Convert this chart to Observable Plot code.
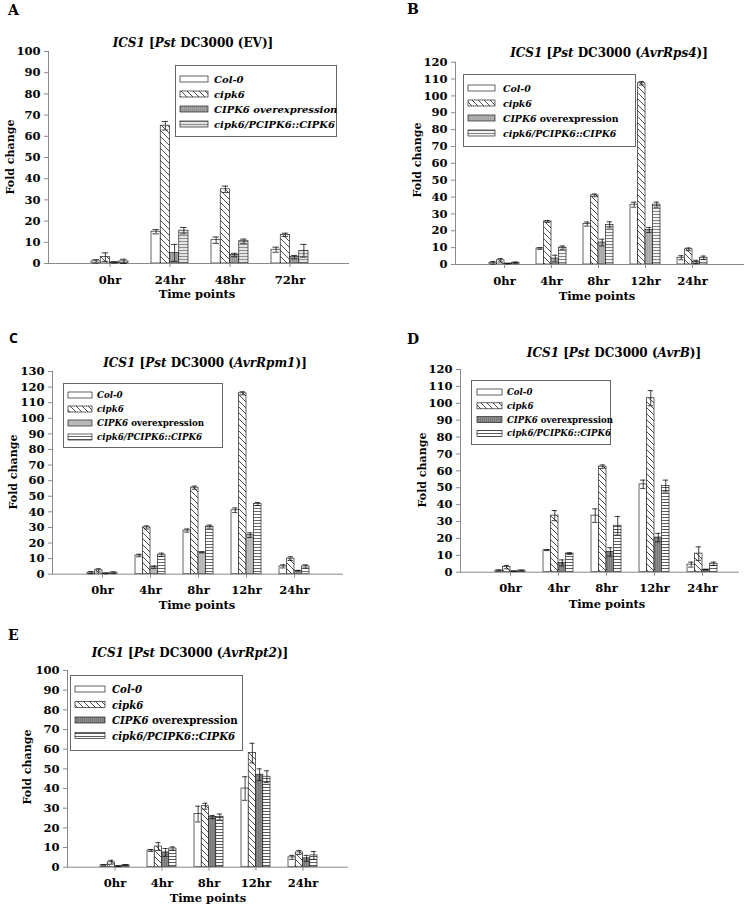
<!DOCTYPE html>
<html><head><meta charset="utf-8">
<script src="https://cdn.jsdelivr.net/npm/d3@7"></script>
<script src="https://cdn.jsdelivr.net/npm/@observablehq/plot@0.6"></script>
<style>
html,body{margin:0;padding:0;background:#fff;}
#page{position:relative;width:754px;height:905px;overflow:hidden;background:#fff;}
.panel{position:absolute;}
#overlay{position:absolute;left:0;top:0;pointer-events:none;}
</style></head><body><div id="page"></div>
<script>
// ---------- data ----------
const series = ["Col-0", "cipk6", "CIPK6 overexpression", "cipk6/PCIPK6::CIPK6"];
const timesA = ["0hr", "24hr", "48hr", "72hr"];
const timesBE = ["0hr", "4hr", "8hr", "12hr", "24hr"];
const strains = ["EV", "AvrRps4", "AvrRpm1", "AvrB", "AvrRpt2"];
const panelLetters = ["A", "B", "C", "D", "E"];
const yMax = [100, 120, 130, 120, 100];

// rows: Col-0, cipk6, CIPK6 overexpression, cipk6/PCIPK6::CIPK6
const meanA = [[1, 15, 11, 6.5], [3, 65, 35, 13.5], [0.5, 5, 4, 3], [1, 15.5, 10.5, 6]];
const errA  = [[0.8, 1, 1.5, 1.2], [2, 2, 1.5, 0.8], [0.3, 4, 0.8, 0.8], [1, 1.5, 1, 3]];

const meanB = [[1, 9.5, 24, 35.5, 4], [2.5, 25.5, 41, 107.5, 9], [0.5, 3.5, 13, 20.5, 1.5], [1, 10, 23.5, 35.5, 4]];
const errB  = [[0.8, 0.5, 1.2, 1.5, 1.2], [1, 0.6, 0.8, 1, 0.8], [0.2, 2, 2, 1.5, 1], [0.5, 1, 1.8, 1.5, 1]];

const meanC = [[1, 12, 28, 41, 5], [2.5, 30, 55.5, 116, 10], [0.5, 4.5, 14, 25, 2], [1, 12.5, 30.5, 45, 5]];
const errC  = [[0.7, 0.8, 1, 1.5, 1], [1, 1, 1, 1, 1.2], [0.2, 0.8, 0.3, 1.5, 0.5], [0.5, 1, 1, 1, 1]];

const meanD = [[1, 13, 33.5, 52, 4.5], [3, 33.5, 62.5, 103, 11], [0.5, 5.5, 12, 20.5, 1.5], [1, 11, 27.5, 51, 5]];
const errD  = [[0.3, 0.2, 4, 2.5, 1.5], [1, 3, 1, 4.5, 4], [0.1, 1.8, 2.5, 2.5, 0.2], [0.2, 0.5, 5.5, 3.5, 1]];

const meanE = [[1, 8.5, 27, 40, 5], [2.5, 10.5, 31, 58, 7.5], [0.5, 7.5, 25.5, 47, 4.5], [1, 9.5, 25.5, 46, 6]];
const errE  = [[0.3, 0.5, 4, 6, 1], [1, 2, 1.5, 5, 1], [0.2, 2, 0.8, 3, 1.5], [0.3, 0.8, 1.5, 3, 2]];

// ---------- layout / styles (page pixel coordinates) ----------
const layout = [
  {left:0,   top:0,   w:377, h:300, x0:48,  x1:349, yTop:51,  yBase:263,   c0:108, c1:290, gw:37,
   title:[193,43], letter:[8,10], letterFont:"DejaVu Serif", xlab:[197,294], ylab:[10,157],
   legend:{x:175,y:65,w:161,h:71,row0:14,dy:15,sx:5,sw:28,tx:39,fs:10},
   oe:"#a6a6a6", oeLine:"#8a8a8a", hzBg:"#e4e4e4", hzLine:"#7a7a7a"},
  {left:377, top:0,   w:377, h:300, x0:455, x1:744, yTop:61.7, yBase:264, c0:503, c1:692, gw:30,
   title:[609,53], letter:[407,9], letterFont:"DejaVu Serif", xlab:[597,296], ylab:[417,160],
   legend:{x:463,y:74,w:172,h:72,row0:14,dy:15,sx:5,sw:27,tx:40,fs:9.4},
   oe:"#b2b2b2", oeLine:"#a0a0a0", hzBg:"#f4f4f4", hzLine:"#666"},
  {left:0,   top:300, w:377, h:300, x0:52,  x1:343, yTop:371, yBase:573.7, c0:101, c1:294, gw:30,
   title:[205,363], letter:[9,337], letterFont:"Open Sans", xlab:[197,605], ylab:[13,472],
   legend:{x:63,y:383,w:159,h:64,row0:12,dy:14,sx:5,sw:24,tx:34,fs:8.7},
   oe:"#bdbdbd", oeLine:"#b0b0b0", hzBg:"#ffffff", hzLine:"#444"},
  {left:377, top:300, w:377, h:300, x0:460, x1:739, yTop:369, yBase:571.7, c0:509, c1:703, gw:30,
   title:[614,353], letter:[407,339], letterFont:"DejaVu Serif", xlab:[607,604], ylab:[422,470],
   legend:{x:471,y:380,w:139,h:64,row0:12,dy:13.8,sx:6,sw:25,tx:36,fs:8.6},
   oe:"#8e8e8e", oeLine:"#6c6c6c", hzBg:"#ffffff", hzLine:"#333"},
  {left:0,   top:600, w:377, h:305, x0:67,  x1:348, yTop:670, yBase:866.7, c0:114, c1:302, gw:29,
   title:[190,653], letter:[8,635], letterFont:"DejaVu Serif", xlab:[208,898], ylab:[27,767],
   legend:{x:70,y:675,w:172,h:75,row0:14,dy:15.5,sx:5,sw:30,tx:42,fs:10.2},
   oe:"#8c8c8c", oeLine:"#6c6c6c", hzBg:"#ffffff", hzLine:"#333"}
];

const panels = [
  {times: timesA,  mean: meanA, err: errA},
  {times: timesBE, mean: meanB, err: errB},
  {times: timesBE, mean: meanC, err: errC},
  {times: timesBE, mean: meanD, err: errD},
  {times: timesBE, mean: meanE, err: errE}
];

const FONT = "DejaVu Serif";
const page = document.getElementById("page");

// ---------- overlay svg with pattern defs ----------
const overlay = d3.create("svg").attr("id", "overlay").attr("width", 754).attr("height", 905)
  .attr("font-family", FONT).attr("font-weight", "bold");
const defs = overlay.append("defs");
{
  const p = defs.append("pattern").attr("id", "diag").attr("patternUnits", "userSpaceOnUse")
    .attr("width", 6).attr("height", 6);
  p.append("rect").attr("width", 6).attr("height", 6).attr("fill", "#fff");
  p.append("path").attr("d", "M-1,-1L7,7M-1,5L1,7M5,-1L7,1").attr("stroke", "#222").attr("stroke-width", 0.8);
}
layout.forEach((L, k) => {
  const po = defs.append("pattern").attr("id", "oe" + k).attr("patternUnits", "userSpaceOnUse")
    .attr("width", 2).attr("height", 2);
  po.append("rect").attr("width", 2).attr("height", 2).attr("fill", L.oe);
  po.append("rect").attr("width", 0.7).attr("height", 2).attr("fill", L.oeLine);
  const ph = defs.append("pattern").attr("id", "hz" + k).attr("patternUnits", "userSpaceOnUse")
    .attr("width", 3).attr("height", 3);
  ph.append("rect").attr("width", 3).attr("height", 3).attr("fill", L.hzBg);
  ph.append("rect").attr("y", 1).attr("width", 3).attr("height", 0.8).attr("fill", L.hzLine);
});
const fillsFor = (k) => ["#ffffff", "url(#diag)", `url(#oe${k})`, `url(#hz${k})`];

// ---------- plots ----------
panels.forEach((P, k) => {
  const L = layout[k];
  const n = P.times.length;
  const data = [];
  series.forEach((s, i) => P.times.forEach((t, j) =>
    data.push({series: s, si: i, time: t, value: P.mean[i][j], err: P.err[i][j]})));
  const step = (L.c1 - L.c0) / (n - 1);
  const pad = 1 - L.gw / step;
  const q = L.gw / 4;
  const cap = q * 0.7;
  const fills = fillsFor(k);
  const marks = [
    Plot.frame({anchor: "left", stroke: "#8a8a8a"}),
    Plot.axisY({ticks: d3.range(0, yMax[k] + 1, 10), tickSize: 4, tickPadding: 4, stroke: "#8a8a8a",
      fill: "#000", label: null, tickFormat: d => String(d), fontSize: 11.5}),
    Plot.axisX({tickSize: 4, tickPadding: 8, stroke: "#8a8a8a", fill: "#000", label: null, fontSize: 11.5})
  ];
  series.forEach((s, i) => {
    const sub = data.filter(d => d.si === i);
    marks.push(Plot.barY(sub, {x: "time", y: "value", fill: fills[i], stroke: "#222", strokeWidth: 0.7,
      insetLeft: i * q, insetRight: (3 - i) * q}));
  });
  marks.push(Plot.ruleY([0], {stroke: "#8a8a8a"}));
  series.forEach((s, i) => {
    const sub = data.filter(d => d.si === i);
    const ci = i * q + (q - cap) / 2, cr = (3 - i) * q + (q - cap) / 2;
    marks.push(Plot.ruleX(sub, {x: "time", y1: d => Math.max(0, d.value - d.err), y2: d => d.value + d.err,
      dx: (i - 1.5) * q, stroke: "#111", strokeWidth: 0.8}));
    marks.push(Plot.tickY(sub, {x: "time", y: d => d.value + d.err, insetLeft: ci, insetRight: cr, stroke: "#111", strokeWidth: 0.8}));
    marks.push(Plot.tickY(sub, {x: "time", y: d => Math.max(0, d.value - d.err), insetLeft: ci, insetRight: cr, stroke: "#111", strokeWidth: 0.8}));
  });
  const chart = Plot.plot({
    width: L.w, height: L.h,
    marginLeft: L.x0 - L.left, marginRight: L.left + L.w - L.x1,
    marginTop: L.yTop - L.top, marginBottom: L.top + L.h - L.yBase,
    style: {fontFamily: FONT, fontWeight: "bold", fontSize: "11px", color: "#000", background: "transparent", overflow: "visible"},
    x: {type: "band", domain: P.times, range: [L.c0 - L.left - step / 2, L.c1 - L.left + step / 2],
        paddingInner: pad, paddingOuter: pad / 2, align: 0.5},
    y: {domain: [0, yMax[k]], range: [L.yBase - L.top, L.yTop - L.top]},
    marks
  });
  const div = document.createElement("div");
  div.className = "panel";
  div.style.left = L.left + "px"; div.style.top = L.top + "px";
  div.appendChild(chart);
  page.appendChild(div);
});

// ---------- text & legends ----------
function richText(g, x, y, parts, size, anchor) {
  const t = g.append("text").attr("x", x).attr("y", y).attr("font-size", size)
    .attr("text-anchor", anchor || "middle").attr("dominant-baseline", "central").style("white-space", "pre");
  parts.forEach(([s, it]) => t.append("tspan").attr("font-style", it ? "italic" : "normal").text(s));
  return t;
}
layout.forEach((L, k) => {
  const g = overlay.append("g");
  g.append("text").attr("x", L.letter[0]).attr("y", L.letter[1]).attr("dominant-baseline", "central")
    .attr("font-family", L.letterFont).attr("font-size", 14).text(panelLetters[k]);
  richText(g, L.title[0], L.title[1], [["ICS1", true], [" [", false], ["Pst", true], [" DC3000 (", false],
    [strains[k], k !== 0], [")]", false]], 12);
  richText(g, L.xlab[0], L.xlab[1], [["Time points", false]], 11.5);
  richText(g, 0, 0, [["Fold change", false]], 11).attr("transform", `translate(${L.ylab[0]},${L.ylab[1]}) rotate(-90)`);
  const lg = L.legend;
  g.append("rect").attr("x", lg.x + 0.5).attr("y", lg.y + 0.5).attr("width", lg.w).attr("height", lg.h)
    .attr("fill", "#fff").attr("stroke", "#666").attr("stroke-width", 1);
  const fills = fillsFor(k);
  const labels = [
    [["Col-0", true]], [["cipk6", true]],
    k === 0 ? [["CIPK6 overexpression", true]] : [["CIPK6", true], [" overexpression", false]],
    [["cipk6/PCIPK6::CIPK6", true]]
  ];
  series.forEach((s, i) => {
    const yy = lg.y + lg.row0 + i * lg.dy;
    g.append("rect").attr("x", lg.x + lg.sx).attr("y", yy - 3).attr("width", lg.sw).attr("height", 6)
      .attr("fill", fills[i]).attr("stroke", "#222").attr("stroke-width", 0.7);
    richText(g, lg.x + lg.tx, yy, labels[i], lg.fs, "start");
  });
});
page.appendChild(overlay.node());
</script>
</body></html>
